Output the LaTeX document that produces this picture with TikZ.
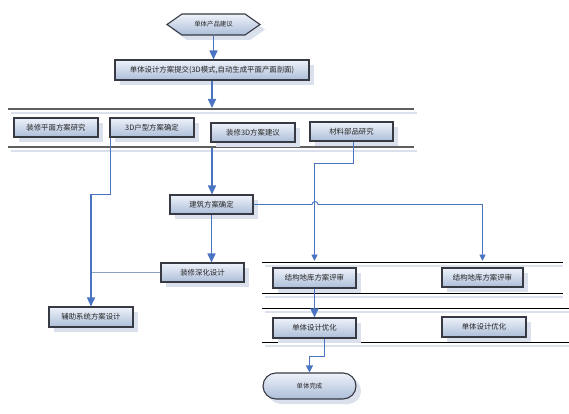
\documentclass[tikz,border=0pt]{standalone}
\usepackage{fontspec}
\newfontfamily\cjk{Noto Sans CJK SC}
\usetikzlibrary{shapes.symbols,shapes.misc,shadows,arrows.meta}
\definecolor{boxtop}{RGB}{238,242,249}
\definecolor{boxbot}{RGB}{172,190,217}
\definecolor{boxedge}{RGB}{55,58,66}
\definecolor{shadowc}{RGB}{218,225,236}
\definecolor{blueline}{RGB}{74,116,194}
\definecolor{grayblue}{RGB}{140,160,192}
\definecolor{divgray}{RGB}{95,95,95}
\begin{document}
\begin{tikzpicture}[x=1pt,y=-1pt,
  font=\cjk\fontsize{7.4}{8}\selectfont,
  box/.style={draw=boxedge, line width=1.1pt, top color=boxtop, bottom color=boxbot,
    minimum height=19pt, minimum width=83pt, inner sep=0pt, text=black!85,
    drop shadow={shadow xshift=5pt, shadow yshift=-5pt, fill=shadowc, opacity=1}},
  hexa/.style={box, shape=signal, signal to=west and east, signal pointer angle=70,
    minimum width=93pt, minimum height=21pt, font=\cjk\fontsize{6.4}{7}\selectfont},
  term/.style={box, shape=rounded rectangle, minimum width=93pt, minimum height=26pt,
    font=\cjk\fontsize{6.4}{7}\selectfont},
  thickarrow/.style={draw=blueline, line width=1.6pt, -{Triangle[length=9pt,width=8pt]}},
  thinarrow/.style={draw=blueline, line width=0.9pt, -{Triangle[length=6.5pt,width=6pt]}},
  grayline/.style={draw=grayblue, line width=1.6pt},
  divtop/.style={draw=divgray, line width=1.6pt},
  divline/.style={draw=black, line width=0.9pt},
  divshadow/.style={draw=shadowc, line width=1.4pt}
]
\useasboundingbox (0,0) rectangle (569,414);
\fill[white] (0,0) rectangle (569,414);

% divider lines
\draw[divshadow] (11,113) -- (417,113);
\draw[divtop] (8,109) -- (414,109);
\draw[divshadow] (11,151) -- (417,151);
\draw[divtop] (8,147) -- (414,147);
\foreach \yy/\xe in {262/563, 293/563, 308/569, 342/569}{
  \draw[divshadow] (265,\yy+4) -- (\xe,\yy+4);
  \draw[divline] (262,\yy) -- (\xe,\yy);
}
\coordinate (L1) at (212,108);
\coordinate (L2) at (212,148);
\coordinate (R1) at (0,261);

% nodes
\node[hexa] (hex) at (213.5,24.5) {单体产品建议};
\node[box, minimum width=194pt, minimum height=20pt] (main) at (212,70) {单体设计方案提交(3D模式,自动生成平面产面剖面)};
\node[box, minimum width=84pt] (b1) at (56,127.5) {装修平面方案研究};
\node[box, minimum width=84pt] (b2) at (152,127.5) {3D户型方案确定};
\node[box, minimum width=84pt] (b3) at (253,132.5) {装修3D方案建议};
\node[box] (b4) at (351.5,131.5) {材料部品研究};
\node[box] (jz) at (211.5,204.5) {建筑方案确定};
\node[box] (zx) at (202.5,272.5) {装修深化设计};
\node[box, minimum width=84pt, minimum height=20pt] (fz) at (91,317) {辅助系统方案设计};
\node[box, minimum height=20pt] (jg1) at (314.5,278) {结构地库方案评审};
\node[box, minimum width=81pt] (jg2) at (482.5,277.5) {结构地库方案评审};
\node[box, minimum height=20pt] (yh1) at (314.5,328) {单体设计优化};
\node[box, minimum width=84pt, minimum height=20pt] (yh2) at (484,327) {单体设计优化};
\node[term] (end) at (309.5,386) {单体完成};

% connectors
\draw[thickarrow] (hex.south) -- (hex.south |- main.north);
\draw[thickarrow] (main.south) -- (main.south |- L1);
\draw[thickarrow] (L2) -- (L2 |- jz.north);
\draw[thickarrow] (jz.south) -- (jz.south |- zx.north);
\draw[grayline] (zx.west) -- (fz.north |- zx.west);
\draw[thickarrow] ([xshift=1pt]b2.south west) -- ++(0,57) -| (fz.north);
\draw[thinarrow] (jz.east) -- (312,204.5) arc[start angle=180, end angle=360, radius=3]
  -- (jg2.north |- jz.east) -- (jg2.north |- R1);
\draw[thinarrow] ([xshift=1.5pt]b4.south) -- ++(0,22) -| (jg1.north |- R1);
\draw[thickarrow] (jg1.south) -- (yh1.north);
\draw[draw=blueline, line width=1.1pt, -{Triangle[length=7pt,width=7pt]}]
  ([xshift=10pt]yh1.south) -- ++(0,18) -| (end.north);
\end{tikzpicture}
\end{document}
